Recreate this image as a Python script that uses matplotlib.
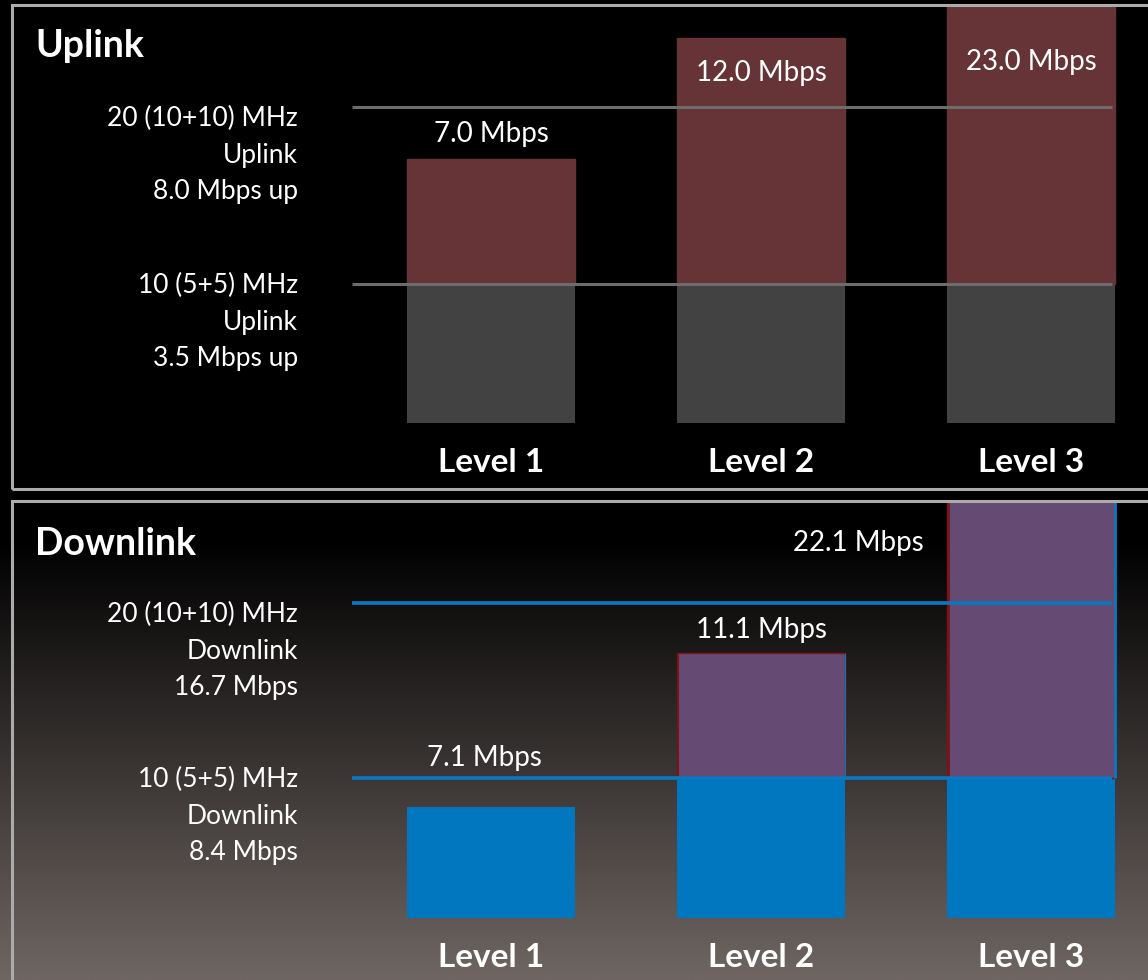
import numpy as np
import matplotlib.pyplot as plt
from matplotlib.patches import Rectangle

plt.rcParams['font.family'] = ['Lato', 'DejaVu Sans']

levels = ['Level 1', 'Level 2', 'Level 3']

# uplink, Mbps
up_base = [3.5, 3.5, 3.5]
up_total = [7.0, 12.0, 23.0]
up_lines = [3.5, 8.0]
up_line_text = ['10 (5+5) MHz\nUplink\n3.5 Mbps up',
                '20 (10+10) MHz\nUplink\n8.0 Mbps up']

# downlink, Mbps
down_base = [7.1, 8.4, 8.4]
down_total = [7.1, 11.1, 22.1]
down_lines = [8.4, 16.7]
down_line_text = ['10 (5+5) MHz\nDownlink\n8.4 Mbps',
                  '20 (10+10) MHz\nDownlink\n16.7 Mbps']

W, H = 1148, 980
STEP = 270.0          # px between bar centres
X0 = 491.0            # px of first bar centre
BAR_W = 168 / STEP


def knot_scale(values, px):
    # the slide is not drawn to scale: piecewise linear value -> px height
    v = np.array(values, float)
    h = np.array(px, float)
    s0 = h[1] / v[1]
    s1 = (h[-1] - h[-2]) / (v[-1] - v[-2])
    v = np.r_[v[0] - 50, v, v[-1] + 50]
    h = np.r_[h[0] - 50 * s0, h, h[-1] + 50 * s1]
    return (lambda y: np.interp(y, v, h)), (lambda p: np.interp(p, h, v))


def panel(top_px, bot_px, base_px, base, total, lines, line_text, knots_px,
          base_col, top_col, line_col, line_w, lbl_off, lbl_ha, edges=False):
    ax = fig.add_axes([0, (H - bot_px) / H, 1, (bot_px - top_px) / H])
    knots = sorted(set([0.0] + base + total + lines))
    fwd, inv = knot_scale(knots, knots_px)
    ax.set_yscale('function', functions=(fwd, inv))
    ax.set_ylim(inv(base_px - bot_px), inv(base_px - top_px))
    ax.set_xlim(-X0 / STEP, (W - X0) / STEP)
    ax.set_axis_off()

    x = np.arange(len(levels))
    ax.bar(x, base, BAR_W, color=base_col, zorder=2)
    extra = np.subtract(total, base)
    has = extra > 0
    ax.bar(x[has], extra[has], BAR_W, bottom=np.array(base)[has], color=top_col,
           edgecolor='#7a1418' if edges else top_col, linewidth=1, zorder=2)
    if edges:
        xs = x[has]
        ax.vlines(xs - BAR_W / 2 + 0.004, np.array(base)[has], np.array(total)[has],
                  color='#7a1418', linewidth=[0.8, 2.0], zorder=3)
        ax.vlines(xs + BAR_W / 2, np.array(base)[has], np.array(total)[has],
                  color=line_col, linewidth=[0.8, 2.0], zorder=3)

    ax.hlines(lines, (352 - X0) / STEP, (1112 - X0) / STEP, color=line_col,
              linewidth=line_w, zorder=4)

    ytop = ax.get_ylim()[1]
    for lv, txt, dy in zip(lines, line_text, [-38, -48]):
        ax.annotate(txt, xy=((298 - X0) / STEP, lv), xytext=(0, dy),
                    textcoords='offset pixels', ha='right', va='center',
                    color='white', fontsize=19, linespacing=1.57)
    for i, v in enumerate(total):
        ax.annotate(f'{v:.1f} Mbps', xy=(i, min(v, ytop)), xytext=lbl_off[i],
                    textcoords='offset pixels', ha=lbl_ha[i], va='center',
                    color='white', fontsize=20, zorder=5, annotation_clip=False)
    for i, name in enumerate(levels):
        ax.annotate(name, xy=(i, 0), xytext=(0, -39), textcoords='offset pixels',
                    ha='center', va='center', color='white', fontsize=24,
                    fontweight='bold')
    return ax


fig = plt.figure(figsize=(W / 100, H / 100), dpi=100, facecolor='black')

# background gradient behind the downlink panel
bg = fig.add_axes([0, 0, 1, (H - 490) / H], zorder=-1)
rows = np.linspace(0, 1, 400)
g = np.clip((rows * (H - 490) - (540 - 490)) / (H - 540), 0, 1)
end = np.array([0x6f, 0x66, 0x63]) / 255
img = g[:, None, None] * end[None, None, :]
bg.imshow(img, extent=[0, 1, 0, 1], aspect='auto', origin='upper')
bg.set_axis_off()

panel(7, 488, 423, up_base, up_total, up_lines, up_line_text,
      [0, 139, 264, 316, 385, 450],
      '#424242', '#663436', '#6c6c6c', 2.2,
      [(0, 25), (0, -35), (0, -55)], ['center', 'center', 'center'])

panel(503, 980, 918, down_base, down_total, down_lines, down_line_text,
      [0, 111, 140, 265, 315, 450],
      '#0077bf', '#654b74', '#0a78c0', 2.6,
      [(-7, 49), (0, 23), (-107, -40)], ['center', 'center', 'right'], edges=True)

fig.text(35 / W, 1 - 46 / H, 'Uplink', color='white', fontsize=27,
         fontweight='bold', va='center')
fig.text(35 / W, 1 - 544 / H, 'Downlink', color='white', fontsize=27,
         fontweight='bold', va='center')

# panel frames
fig.add_artist(Rectangle((11.5 / W, 1 - 489.5 / H), 1.0, (489.5 - 5) / H,
                         transform=fig.transFigure, fill=False,
                         edgecolor='#ababab', linewidth=2.2, zorder=10))
fig.add_artist(Rectangle((11.5 / W, -0.1), 1.0, 0.1 + 1 - 501.5 / H,
                         transform=fig.transFigure, fill=False,
                         edgecolor='#ababab', linewidth=2.2, zorder=10))

fig.savefig('out.png', dpi=100, facecolor='black')
